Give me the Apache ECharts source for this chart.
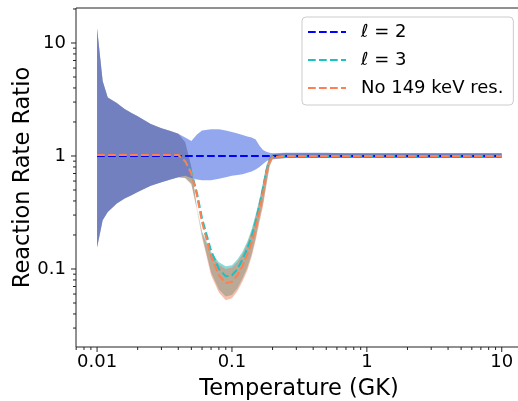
<!DOCTYPE html>
<html>
<head>
<meta charset="utf-8">
<script src="https://cdn.jsdelivr.net/npm/echarts@6/dist/echarts.min.js"></script>
<style>
  html, body { margin: 0; padding: 0; background: #fff; }
  #chart { width: 518px; height: 401px; }
</style>
</head>
<body>
<div id="chart"></div>
<script>
// temperature grid (GK)
const temps = [0.01, 0.011, 0.012, 0.014, 0.016, 0.018, 0.02, 0.025, 0.03, 0.035, 0.04,
  0.045, 0.05, 0.055, 0.06, 0.07, 0.08, 0.09, 0.1, 0.11, 0.12, 0.13, 0.14, 0.15, 0.16,
  0.17, 0.18, 0.19, 0.2, 0.25, 0.3, 0.4, 0.5, 0.7, 1, 1.5, 2, 3, 5, 7, 10];

// l = 2 band
const l2Hi = [13.5, 4.6, 3.3, 2.95, 2.6, 2.4, 2.25, 1.92, 1.76, 1.66, 1.57,
  1.46, 1.36, 1.55, 1.68, 1.72, 1.72, 1.68, 1.63, 1.58, 1.53, 1.49, 1.46, 1.4, 1.23,
  1.13, 1.09, 1.07, 1.06, 1.07, 1.07, 1.07, 1.07, 1.06, 1.06, 1.06, 1.06, 1.06, 1.06, 1.06, 1.06];
const l2Lo = [0.155, 0.27, 0.32, 0.38, 0.42, 0.45, 0.48, 0.545, 0.585, 0.62, 0.65,
  0.67, 0.64, 0.62, 0.61, 0.61, 0.63, 0.65, 0.67, 0.68, 0.69, 0.71, 0.73, 0.76, 0.8,
  0.85, 0.9, 0.93, 0.95, 0.96, 0.96, 0.96, 0.96, 0.96, 0.96, 0.96, 0.96, 0.96, 0.96, 0.96, 0.96];
const l2Temps = [0.01, 10];
const l2Ratio = [1, 1];

// l = 3 band and line
const l3Hi = [13.5, 4.6, 3.3, 2.95, 2.6, 2.4, 2.25, 1.92, 1.76, 1.66, 1.57,
  1.32, 0.8, 0.35, 0.215, 0.142, 0.115, 0.106, 0.108, 0.122, 0.143, 0.175, 0.225, 0.305, 0.415,
  0.59, 0.83, 0.97, 1.04, 1.06, 1.06, 1.06, 1.06, 1.06, 1.06, 1.06, 1.06, 1.06, 1.06, 1.06, 1.06];
const l3Lo = [0.155, 0.27, 0.32, 0.38, 0.42, 0.45, 0.48, 0.545, 0.585, 0.62, 0.65,
  0.64, 0.57, 0.345, 0.2, 0.093, 0.066, 0.057, 0.059, 0.068, 0.083, 0.103, 0.136, 0.19, 0.275,
  0.38, 0.57, 0.82, 0.935, 0.96, 0.96, 0.96, 0.96, 0.96, 0.96, 0.96, 0.96, 0.96, 0.96, 0.96, 0.96];
const l3Mid = [1.02, 1.02, 1.02, 1.02, 1.02, 1.02, 1.02, 1.02, 1.02, 1.02, 1.02,
  0.9, 0.72, 0.47, 0.28, 0.145, 0.1, 0.086, 0.088, 0.1, 0.122, 0.152, 0.195, 0.265, 0.37,
  0.52, 0.74, 0.91, 0.98, 1.0, 1.0, 1.0, 1.0, 1.0, 1.0, 1.0, 1.0, 1.0, 1.0, 1.0, 1.0];

// no 149 keV resonance band and line
const nrHi = [13.5, 4.6, 3.3, 2.95, 2.6, 2.4, 2.25, 1.92, 1.76, 1.66, 1.57,
  1.32, 0.79, 0.335, 0.205, 0.135, 0.109, 0.1, 0.103, 0.116, 0.136, 0.167, 0.215, 0.292, 0.4,
  0.57, 0.81, 0.96, 1.03, 1.06, 1.06, 1.06, 1.06, 1.06, 1.06, 1.06, 1.06, 1.06, 1.06, 1.06, 1.06];
const nrLo = [0.155, 0.27, 0.32, 0.38, 0.42, 0.45, 0.48, 0.545, 0.585, 0.62, 0.65,
  0.64, 0.56, 0.33, 0.19, 0.088, 0.062, 0.053, 0.055, 0.064, 0.078, 0.097, 0.128, 0.18, 0.26,
  0.36, 0.55, 0.8, 0.93, 0.96, 0.96, 0.96, 0.96, 0.96, 0.96, 0.96, 0.96, 0.96, 0.96, 0.96, 0.96];
const nrMid = [1.02, 1.02, 1.02, 1.02, 1.02, 1.02, 1.02, 1.02, 1.02, 1.02, 1.02,
  0.9, 0.7, 0.45, 0.26, 0.13, 0.088, 0.075, 0.077, 0.088, 0.107, 0.135, 0.172, 0.235, 0.33,
  0.47, 0.7, 0.9, 0.98, 1.0, 1.0, 1.0, 1.0, 1.0, 1.0, 1.0, 1.0, 1.0, 1.0, 1.0, 1.0];

// ticks
const xMajor = [0.01, 0.1, 1, 10];
const xMinor = [0.007, 0.008, 0.009, 0.02, 0.03, 0.04, 0.05, 0.06, 0.07, 0.08, 0.09,
  0.2, 0.3, 0.4, 0.5, 0.6, 0.7, 0.8, 0.9, 2, 3, 4, 5, 6, 7, 8, 9];
const yMajor = [0.1, 1, 10];
const yMinor = [0.03, 0.04, 0.05, 0.06, 0.07, 0.08, 0.09, 0.2, 0.3, 0.4, 0.5, 0.6, 0.7,
  0.8, 0.9, 2, 3, 4, 5, 6, 7, 8, 9, 20];

const FONT = 'DejaVu Sans';
const TICK = '#222';

function pairs(xs, ys) {
  return xs.map((x, i) => [x, ys[i]]);
}

// filled band between lo and hi, drawn as one polygon
function band(lo, hi, color) {
  return {
    type: 'custom',
    silent: true,
    clip: true,
    data: temps.map((t, i) => [t, lo[i], hi[i]]),
    encode: { x: 0, y: [1, 2] },
    renderItem: function(params, api) {
      if (params.dataIndex !== 0) return null;
      const top = temps.map((t, i) => api.coord([t, hi[i]]));
      const bot = temps.map((t, i) => api.coord([t, lo[i]])).reverse();
      return {
        type: 'polygon',
        shape: { points: top.concat(bot) },
        style: { fill: color, stroke: null }
      };
    }
  };
}

function xTicks(vals, len) {
  return {
    type: 'custom',
    silent: true,
    clip: false,
    data: vals.map(v => [v, 1]),
    encode: { x: 0, y: 1 },
    renderItem: function(params, api) {
      const cs = params.coordSys;
      const x = api.coord([api.value(0), 1])[0];
      const y0 = cs.y + cs.height;
      return { type: 'line', shape: { x1: x, y1: y0, x2: x, y2: y0 + len }, style: { stroke: TICK, lineWidth: 1 } };
    }
  };
}

function yTicks(vals, len) {
  return {
    type: 'custom',
    silent: true,
    clip: false,
    data: vals.map(v => [1, v]),
    encode: { x: 0, y: 1 },
    renderItem: function(params, api) {
      const cs = params.coordSys;
      const y = api.coord([1, api.value(1)])[1];
      return { type: 'line', shape: { x1: cs.x, y1: y, x2: cs.x - len, y2: y }, style: { stroke: TICK, lineWidth: 1 } };
    }
  };
}

function dashed(name, data, color) {
  return {
    name: name,
    type: 'line',
    data: data,
    symbol: 'none',
    showSymbol: false,
    silent: true,
    lineStyle: { color: color, width: 2, type: [7.7, 3.3] },
    itemStyle: { color: color }
  };
}

const chart = echarts.init(document.getElementById('chart'), null, { renderer: 'canvas' });

chart.setOption({
  animation: false,
  backgroundColor: '#fff',
  textStyle: { fontFamily: FONT },
  grid: {
    left: 76, top: 8, width: 446, height: 339,
    show: true, borderColor: TICK, borderWidth: 1, backgroundColor: 'transparent',
    containLabel: false, outerBoundsMode: 'none'
  },
  xAxis: {
    type: 'log',
    min: 0.00698,
    max: 14.13,
    name: 'Temperature (GK)',
    nameLocation: 'middle',
    nameGap: 31,
    nameMoveOverlap: false,
    nameTextStyle: { fontSize: 22.5, color: '#000', fontFamily: FONT },
    axisLine: { show: false },
    axisTick: { show: false },
    splitLine: { show: false },
    axisLabel: { fontSize: 18, color: '#000', margin: 6, showMinLabel: false, showMaxLabel: false, fontFamily: FONT }
  },
  yAxis: {
    type: 'log',
    min: 0.0204,
    max: 20.4,
    name: 'Reaction Rate Ratio',
    nameLocation: 'middle',
    nameGap: 41,
    nameMoveOverlap: false,
    nameTextStyle: { fontSize: 22.5, color: '#000', fontFamily: FONT },
    axisLine: { show: false },
    axisTick: { show: false },
    splitLine: { show: false },
    axisLabel: { fontSize: 18, color: '#000', margin: 10, showMinLabel: false, showMaxLabel: false, fontFamily: FONT }
  },
  legend: {
    orient: 'vertical',
    left: 302,
    top: 17,
    padding: [4, 10, 6, 5],
    itemGap: 6,
    itemWidth: 38,
    itemHeight: 14,
    backgroundColor: '#fff',
    borderColor: '#cccccc',
    borderWidth: 1,
    borderRadius: 4,
    itemStyle: { opacity: 0 },
    textStyle: { fontSize: 18, color: '#000', fontFamily: FONT, lineHeight: 22, padding: [0, 0, 0, 10] },
    data: ['ℓ = 2', 'ℓ = 3', 'No 149 keV res.']
  },
  series: [
    band(l3Lo, l3Hi, 'rgba(0,170,170,0.45)'),
    band(nrLo, nrHi, 'rgba(240,110,70,0.45)'),
    band(l2Lo, l2Hi, 'rgba(58,95,224,0.55)'),
    dashed('ℓ = 2', pairs(l2Temps, l2Ratio), '#0000ff'),
    dashed('ℓ = 3', pairs(temps, l3Mid), '#17c3c3'),
    dashed('No 149 keV res.', pairs(temps, nrMid), '#ff7f50'),
    xTicks(xMajor, 5),
    xTicks(xMinor, 3),
    yTicks(yMajor, 5),
    yTicks(yMinor, 3)
  ]
});
</script>
</body>
</html>
